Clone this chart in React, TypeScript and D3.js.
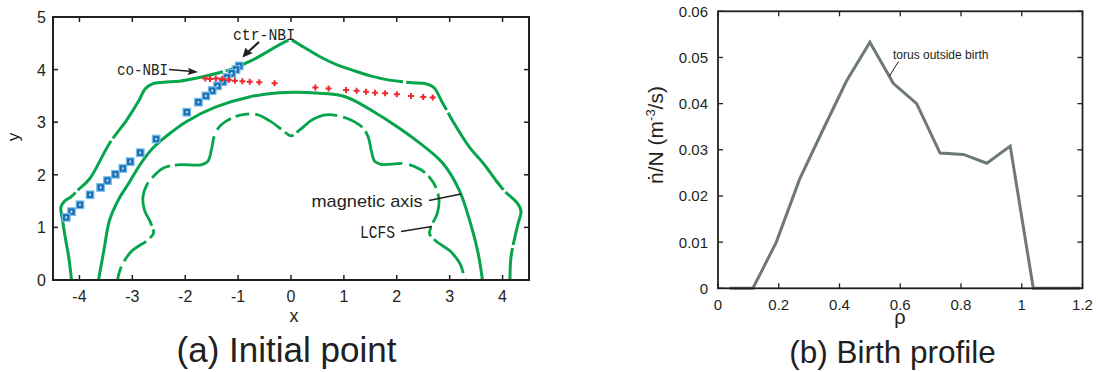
import React from "react";
import * as d3 from "d3";

// ---------- Panel (a) data ----------
const xTicksA = [-4, -3, -2, -1, 0, 1, 2, 3, 4];
const yTicksA = [0, 1, 2, 3, 4, 5];

const outerSurface: [number, number][] = [
  [-4.15, 0], [-4.2, 0.42], [-4.26, 0.76], [-4.32, 1.14], [-4.35, 1.39], [-4.28, 1.5],
  [-4.16, 1.58], [-4.03, 1.71], [-3.81, 1.92], [-3.43, 2.6], [-3.1, 3.05], [-2.87, 3.42],
  [-2.76, 3.63], [-2.62, 3.73], [-2.4, 3.76], [-2.11, 3.78], [-1.73, 3.85], [-1.4, 3.93],
  [-1.1, 4.02], [-0.73, 4.18], [-0.41, 4.36], [-0.15, 4.51], [0, 4.56], [0.2, 4.45],
  [0.54, 4.25], [0.85, 4.1], [1.16, 3.99], [1.5, 3.88], [1.86, 3.8], [2.3, 3.75],
  [2.55, 3.73], [2.7, 3.66], [2.87, 3.36], [3.1, 2.95], [3.37, 2.53], [3.65, 2.2],
  [3.87, 1.9], [4.05, 1.68], [4.28, 1.46], [4.35, 1.3], [4.3, 1.1], [4.25, 0.89],
  [4.16, 0.44], [4.14, 0],
];

const magneticAxisSurface: [number, number][] = [
  [-3.64, 0], [-3.54, 0.55], [-3.43, 1.14], [-3.25, 1.55], [-3.08, 1.82], [-2.85, 2.2],
  [-2.62, 2.5], [-2.3, 2.78], [-1.98, 3.01], [-1.42, 3.29], [-0.79, 3.48], [-0.22, 3.56],
  [0.54, 3.55], [1.04, 3.48], [1.61, 3.17], [2.0, 2.92], [2.36, 2.66], [2.87, 2.22],
  [3.18, 1.71], [3.43, 0.95], [3.54, 0.5], [3.62, 0],
];

const lcfsSurface: [number, number][] = [
  [-3.28, 0], [-3.21, 0.25], [-3.02, 0.54], [-2.71, 0.76], [-2.6, 0.89], [-2.65, 1.08],
  [-2.77, 1.33], [-2.8, 1.58], [-2.72, 1.82], [-2.58, 1.99], [-2.43, 2.12], [-2.15, 2.19],
  [-1.7, 2.19], [-1.57, 2.26], [-1.5, 2.5], [-1.45, 2.74], [-1.32, 2.95], [-0.98, 3.13],
  [-0.66, 3.15], [-0.41, 3.03], [-0.16, 2.85], [0, 2.74], [0.16, 2.85], [0.41, 3.05],
  [0.66, 3.14], [1.04, 3.08], [1.35, 2.9], [1.46, 2.72], [1.52, 2.45], [1.58, 2.26],
  [1.7, 2.2], [2.17, 2.21], [2.45, 2.1], [2.62, 1.95], [2.74, 1.76], [2.8, 1.5],
  [2.76, 1.25], [2.66, 1.04], [2.62, 0.88], [2.74, 0.74], [3.02, 0.54], [3.2, 0.3],
  [3.29, 0],
];

const ctrNbiPoints: [number, number][] = [
  [-0.98, 4.07], [-1.04, 4.0], [-1.12, 3.93], [-1.21, 3.85], [-1.29, 3.77], [-1.39, 3.69],
  [-1.49, 3.6], [-1.61, 3.5], [-1.75, 3.38], [-1.97, 3.19], [-2.55, 2.68], [-2.85, 2.42],
  [-3.04, 2.25], [-3.18, 2.12], [-3.32, 2.01], [-3.47, 1.89], [-3.6, 1.76], [-3.8, 1.62],
  [-3.99, 1.43], [-4.15, 1.3], [-4.25, 1.19],
];

const coNbiPoints: [number, number][] = [
  [-1.62, 3.83], [-1.53, 3.82], [-1.42, 3.83], [-1.3, 3.82], [-1.18, 3.8], [-1.06, 3.79],
  [-0.92, 3.78], [-0.78, 3.77], [-0.6, 3.76], [-0.31, 3.74], [0.46, 3.66], [0.71, 3.64],
  [1.04, 3.61], [1.24, 3.6], [1.42, 3.58], [1.59, 3.56], [1.78, 3.55], [2.0, 3.53],
  [2.27, 3.5], [2.5, 3.48], [2.68, 3.47],
];

// ---------- Panel (b) data ----------
const rhoValues = [0.038, 0.115, 0.192, 0.269, 0.346, 0.423, 0.5, 0.577, 0.654, 0.731, 0.808, 0.885, 0.962, 1.038, 1.115, 1.192];
const birthRate = [0, 0, 0.01, 0.0237, 0.0344, 0.0449, 0.0533, 0.0444, 0.04, 0.0293, 0.029, 0.0271, 0.0308, 0, 0, 0];
const rhoTicks = [0, 0.2, 0.4, 0.6, 0.8, 1, 1.2];
const rateTicks = [0, 0.01, 0.02, 0.03, 0.04, 0.05, 0.06];

const GREEN = "#06a54c";
const AXIS = "#231f20";
const SANS = "'Liberation Sans', Arial, Helvetica, sans-serif";
const MONO = "'Liberation Mono', 'DejaVu Sans Mono', monospace";

export default function App() {
  // Panel (a) scales
  const ax = d3.scaleLinear().domain([-4.5, 4.5]).range([53, 529]);
  const ay = d3.scaleLinear().domain([0, 5]).range([280, 17]);
  const curve = d3
    .line<[number, number]>()
    .x((d) => ax(d[0]))
    .y((d) => ay(d[1]))
    .curve(d3.curveCatmullRom.alpha(0.5));

  // Panel (b) scales
  const bx = d3.scaleLinear().domain([0, 1.2]).range([718, 1082.5]);
  const by = d3.scaleLinear().domain([0, 0.06]).range([288.3, 11.3]);
  const profile = d3
    .line<number>()
    .x((_, i) => bx(rhoValues[i]))
    .y((d) => by(d));

  const cross = d3.symbol(d3.symbolCross, 20)() as string;
  const tickLen = 5;
  const fmtB = (v: number) => (v === 0 ? "0" : String(+v.toFixed(2)));

  return (
    <svg width={1098} height={372} style={{ display: "block", position: "absolute", left: 0, top: 0 }}
      xmlns="http://www.w3.org/2000/svg">
      <defs>
        <clipPath id="clipA">
          <rect x={ax(-4.5)} y={ay(5)} width={ax(4.5) - ax(-4.5)} height={ay(0) - ay(5)} />
        </clipPath>
      </defs>
      <rect x={0} y={0} width={1098} height={372} fill="#ffffff" />

      {/* ================= Panel (a) ================= */}
      <g clipPath="url(#clipA)">
        <path d={curve(outerSurface) || ""} fill="none" stroke={GREEN} strokeWidth={3}
          strokeDasharray="95 3 60 3 140 3 70 3 120 3 55 3" strokeLinecap="butt" />
        <path d={curve(magneticAxisSurface) || ""} fill="none" stroke={GREEN} strokeWidth={3} />
        <path d={curve(lcfsSurface) || ""} fill="none" stroke={GREEN} strokeWidth={2.8}
          strokeDasharray="14 6 30 5 10 4 46 6 22 5 60 7 18 5" />
      </g>

      {ctrNbiPoints.map((p, i) => (
        <g key={"b" + i} transform={`translate(${ax(p[0])},${ay(p[1])})`}>
          <rect x={-3.8} y={-3.8} width={7.6} height={7.6} fill="#1d6fb5" stroke="#74bfea" strokeWidth={1.2} />
          <rect x={-0.8} y={-1.2} width={1.6} height={2.4} fill="#cfe8f7" />
        </g>
      ))}
      {coNbiPoints.map((p, i) => (
        <path key={"r" + i} d={cross} transform={`translate(${ax(p[0])},${ay(p[1])})`} fill="#ee2a2e" />
      ))}

      {/* frame + ticks */}
      <rect x={ax(-4.5)} y={ay(5)} width={ax(4.5) - ax(-4.5)} height={ay(0) - ay(5)}
        fill="none" stroke={AXIS} strokeWidth={2} />
      {xTicksA.map((t) => (
        <g key={"xa" + t}>
          <line x1={ax(t)} x2={ax(t)} y1={ay(0)} y2={ay(0) - tickLen} stroke={AXIS} strokeWidth={1.5} />
          <line x1={ax(t)} x2={ax(t)} y1={ay(5)} y2={ay(5) + tickLen} stroke={AXIS} strokeWidth={1.5} />
          <text x={ax(t)} y={302} textAnchor="middle" fontFamily={SANS} fontSize={16} fill={AXIS}>{t}</text>
        </g>
      ))}
      {yTicksA.map((t) => (
        <g key={"ya" + t}>
          <line x1={ax(-4.5)} x2={ax(-4.5) + tickLen} y1={ay(t)} y2={ay(t)} stroke={AXIS} strokeWidth={1.5} />
          <line x1={ax(4.5)} x2={ax(4.5) - tickLen} y1={ay(t)} y2={ay(t)} stroke={AXIS} strokeWidth={1.5} />
          <text x={46} y={ay(t) + 6} textAnchor="end" fontFamily={SANS} fontSize={16} fill={AXIS}>{t}</text>
        </g>
      ))}
      <text x={294} y={322} textAnchor="middle" fontFamily={SANS} fontSize={18} fill={AXIS}>x</text>
      <text transform="translate(19,137) rotate(-90)" textAnchor="middle" fontFamily={SANS} fontSize={17} fill={AXIS}>y</text>

      {/* annotations */}
      <text x={117} y={75} fontFamily={MONO} fontSize={16} textLength={51} lengthAdjust="spacingAndGlyphs" fill={AXIS}>co-NBI</text>
      <line x1={169} y1={69.5} x2={190} y2={71.3} stroke={AXIS} strokeWidth={1.6} />
      <polygon points="198,72 188,67.8 189.5,71.3 187.6,75" fill={AXIS} />
      <text x={233} y={40} fontFamily={MONO} fontSize={16} textLength={62} lengthAdjust="spacingAndGlyphs" fill={AXIS}>ctr-NBI</text>
      <line x1={259} y1={42} x2={248} y2={52} stroke={AXIS} strokeWidth={2.2} />
      <polygon points="242.5,57.5 245.5,47.5 248.5,51.5 253,53" fill={AXIS} />
      <text x={311.5} y={207} fontFamily={SANS} fontSize={17} textLength={111} lengthAdjust="spacingAndGlyphs" fill={AXIS}>magnetic axis</text>
      <line x1={429} y1={200.5} x2={461} y2={194} stroke={AXIS} strokeWidth={1.5} />
      <text x={360} y={238} fontFamily={MONO} fontSize={18} textLength={35} lengthAdjust="spacingAndGlyphs" fill={AXIS}>LCFS</text>
      <line x1={401} y1={231.5} x2={432} y2={226.5} stroke={AXIS} strokeWidth={1.5} />

      <text x={286.5} y={362} textAnchor="middle" fontFamily={SANS} fontSize={35} fill={AXIS}>(a) Initial point</text>

      {/* ================= Panel (b) ================= */}
      <path d={profile(birthRate) || ""} fill="none" stroke="#6d7879" strokeWidth={3} strokeLinejoin="miter" />

      <rect x={bx(0)} y={by(0.06)} width={bx(1.2) - bx(0)} height={by(0) - by(0.06)}
        fill="none" stroke={AXIS} strokeWidth={1.8} />
      {rhoTicks.map((t) => (
        <g key={"xb" + t}>
          <line x1={bx(t)} x2={bx(t)} y1={by(0)} y2={by(0) - tickLen} stroke={AXIS} strokeWidth={1.3} />
          <line x1={bx(t)} x2={bx(t)} y1={by(0.06)} y2={by(0.06) + tickLen} stroke={AXIS} strokeWidth={1.3} />
          <text x={bx(t)} y={310} textAnchor="middle" fontFamily={SANS} fontSize={15} fill={AXIS}>{fmtB(t)}</text>
        </g>
      ))}
      {rateTicks.map((t) => (
        <g key={"yb" + t}>
          <line x1={bx(0)} x2={bx(0) + tickLen} y1={by(t)} y2={by(t)} stroke={AXIS} strokeWidth={1.3} />
          <line x1={bx(1.2)} x2={bx(1.2) - tickLen} y1={by(t)} y2={by(t)} stroke={AXIS} strokeWidth={1.3} />
          <text x={708} y={by(t) + 5.5} textAnchor="end" fontFamily={SANS} fontSize={15} fill={AXIS}>{fmtB(t)}</text>
        </g>
      ))}
      <text x={900} y={324} textAnchor="middle" fontFamily={SANS} fontSize={20} fill={AXIS}>ρ</text>
      <text transform="translate(663,135) rotate(-90)" textAnchor="middle" fontFamily={SANS} fontSize={21} fill={AXIS}>
        <tspan>ṅ/N (m</tspan>
        <tspan fontSize={13} dy={-8}>-3</tspan>
        <tspan dy={8}>/s)</tspan>
      </text>

      <text x={893} y={59} fontFamily={SANS} fontSize={12} fill={AXIS}>torus outside birth</text>
      <line x1={898.5} y1={61.5} x2={889.5} y2={76} stroke={AXIS} strokeWidth={1} />

      <text x={892.5} y={363} textAnchor="middle" fontFamily={SANS} fontSize={31.5} fill={AXIS}>(b) Birth profile</text>
    </svg>
  );
}
